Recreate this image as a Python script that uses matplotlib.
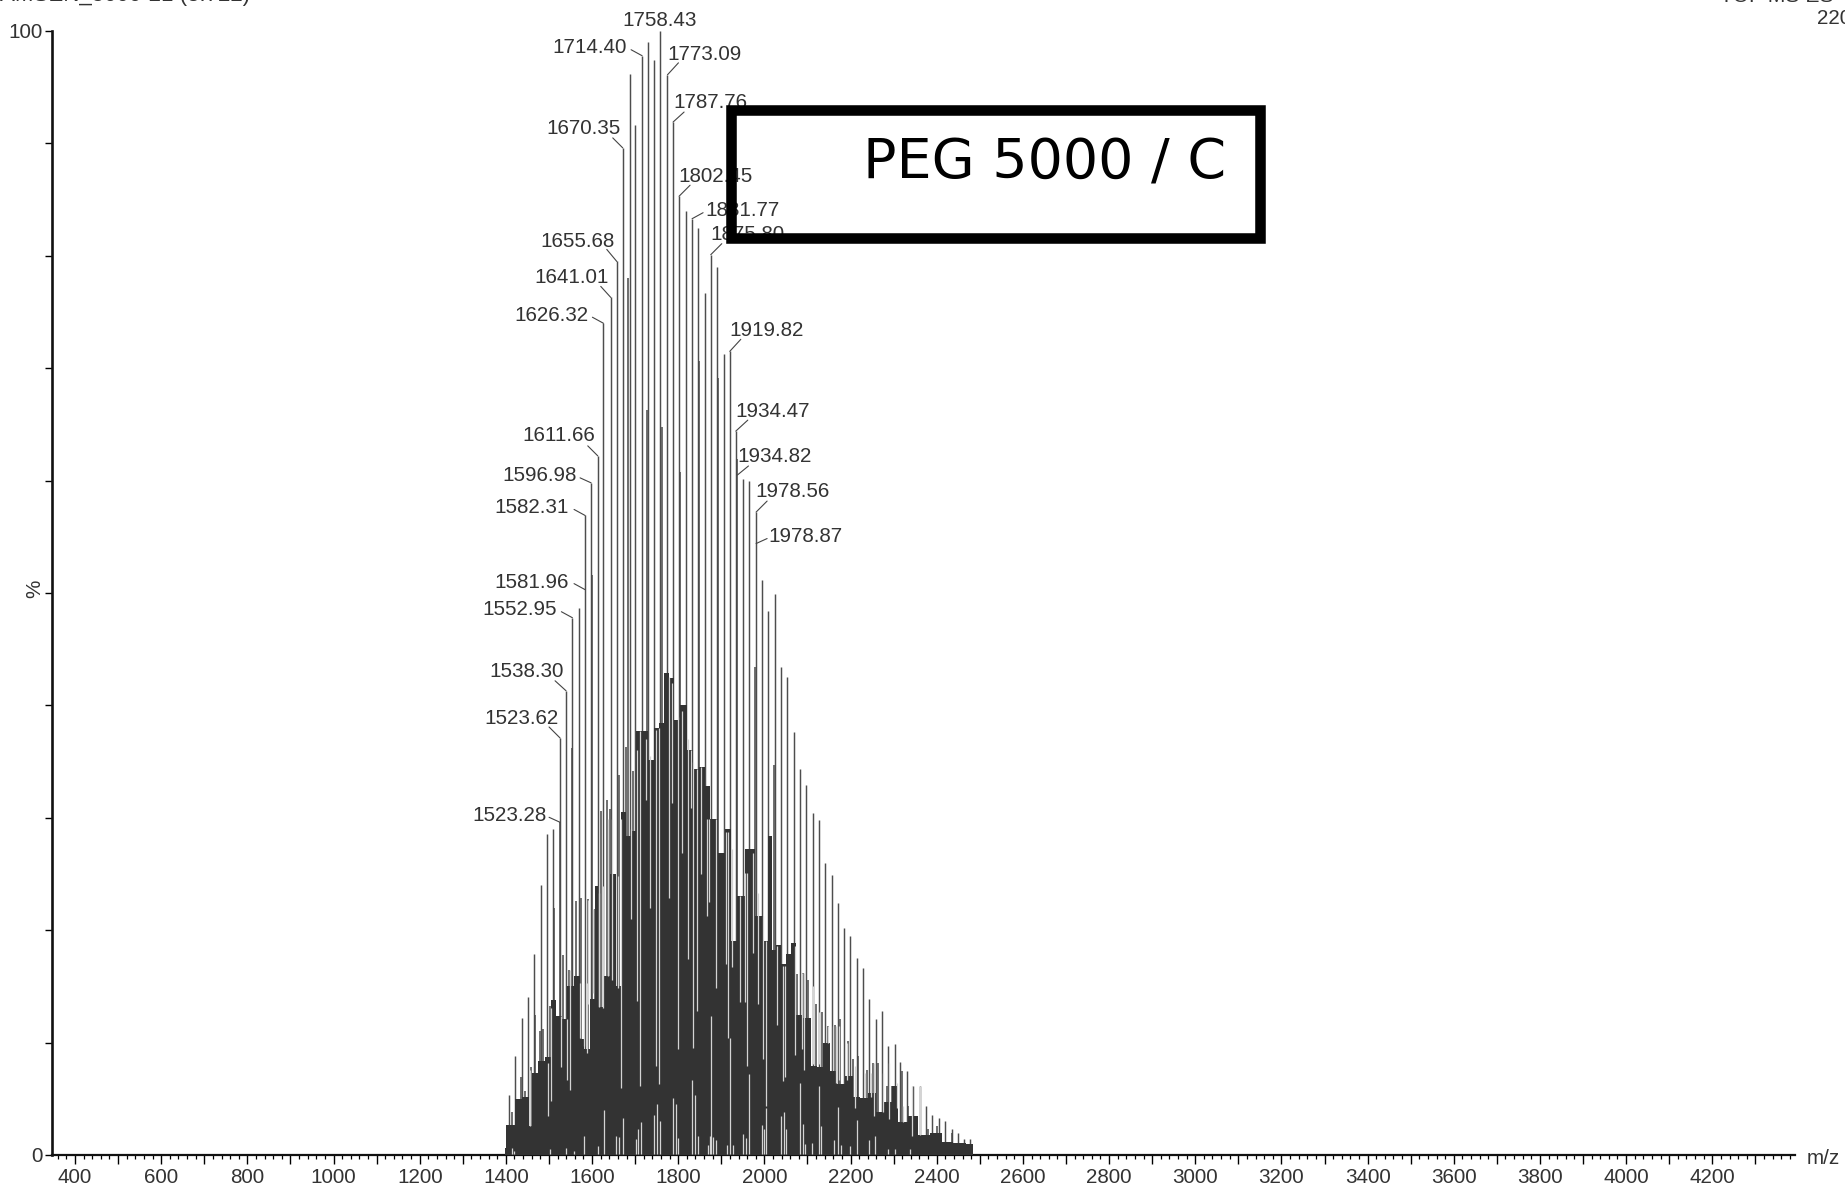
import numpy as np
import matplotlib
matplotlib.use('Agg')
import matplotlib.pyplot as plt
from matplotlib.patches import Rectangle

W, H = 1845, 1186

# tallest sticks, main charge series (m/z, %)
tall_mz = [1407.4, 1420.6, 1437.6, 1451.5, 1465.5, 1481.7, 1494.9, 1508.8, 1525.8, 1539.7, 1554.4, 1569.1,
           1583.8, 1597.8, 1613.3, 1626.4, 1643.4, 1657.4, 1671.3, 1687.5, 1700.7, 1716.2, 1730.9, 1744.8,
           1758.7, 1775.0, 1788.1, 1802.0, 1819.0, 1832.2, 1846.2, 1862.4, 1875.6, 1890.3, 1906.5, 1919.7,
           1933.6, 1949.9, 1963.8, 1980.8, 1994.0, 2008.7, 2024.9, 2038.8, 2052.0, 2068.2, 2082.2, 2096.1,
           2112.3, 2126.3, 2140.2, 2156.5, 2170.4, 2185.1, 2199.8, 2214.5, 2230.0, 2243.9, 2259.4, 2274.1,
           2288.0, 2302.0, 2315.1, 2330.6, 2346.0, 2361.5, 2375.4, 2389.4, 2406.4, 2420.3, 2435.0, 2449.0,
           2462.9, 2477.6]
tall_pct = [5.3, 8.8, 12.2, 14.1, 17.9, 24.0, 28.6, 29.0, 37.1, 41.3, 47.8, 48.7,
            56.9, 59.8, 62.2, 74.0, 76.3, 79.5, 89.6, 96.2, 91.6, 97.8, 99.0, 97.4,
            100.0, 96.1, 91.9, 85.3, 84.0, 83.3, 82.5, 76.7, 80.1, 79.0, 71.3, 71.5,
            64.4, 60.1, 60.0, 57.2, 51.2, 48.4, 49.9, 43.4, 42.5, 37.6, 34.3, 32.9,
            30.4, 29.8, 26.0, 24.9, 22.4, 20.2, 19.5, 17.5, 16.6, 13.9, 12.1, 12.8,
            9.7, 9.9, 8.3, 7.5, 6.1, 6.1, 4.4, 3.6, 3.3, 3.0, 2.3, 2.0,
            1.4, 1.4]

# second rank sticks
mid_mz = [1415.2, 1436.0, 1443.8, 1457.7, 1467.8, 1479.4, 1485.6, 1501.8, 1511.9, 1525.8, 1532.0, 1546.7,
          1554.4, 1562.9, 1574.6, 1590.0, 1599.3, 1607.0, 1620.2, 1634.1, 1641.9, 1663.5, 1678.2, 1684.4,
          1696.0, 1728.6, 1761.8, 1805.1, 1848.5, 1892.6, 1937.5, 1978.5, 2022.6, 2075.2, 2089.1, 2102.3,
          2120.0, 2133.3, 2148.7, 2164.2, 2175.8, 2193.6, 2206.8, 2216.8, 2237.7, 2253.2, 2264.8, 2284.1,
          2295.7, 2319.0, 2334.4, 2380.9, 2400.2, 2435.0]
mid_pct = [3.8, 6.9, 5.7, 7.8, 12.5, 11.0, 11.2, 13.3, 22.0, 29.6, 17.8, 16.5,
           36.2, 22.6, 22.9, 22.8, 51.6, 21.9, 30.6, 31.6, 30.8, 33.8, 36.3, 78.0,
           34.2, 66.3, 64.8, 60.8, 70.6, 69.1, 61.9, 43.4, 34.7, 16.1, 16.2, 15.6,
           13.4, 12.7, 11.5, 11.6, 12.1, 10.1, 8.5, 8.8, 7.6, 8.2, 8.2, 6.1,
           6.1, 7.5, 4.4, 2.3, 2.6, 2.0]

# top of the dense dark mass
mass_mz = [1398.0, 1403.6, 1420.6, 1422.0, 1452.0, 1456.0, 1464.0, 1483.0, 1499.0, 1509.0, 1522.0, 1537.5,
           1547.5, 1568.0, 1576.0, 1589.0, 1601.6, 1611.0, 1617.0, 1634.0, 1650.0, 1661.0, 1673.0, 1684.5,
           1696.0, 1707.7, 1719.3, 1738.6, 1750.2, 1761.8, 1773.4, 1782.7, 1796.6, 1813.7, 1827.6, 1839.2,
           1857.0, 1866.3, 1881.8, 1901.1, 1916.6, 1928.2, 1943.7, 1966.9, 1990.0, 2005.6, 2013.3, 2021.0,
           2032.7, 2044.3, 2055.9, 2067.5, 2079.1, 2102.3, 2113.9, 2129.4, 2144.9, 2160.3, 2175.8, 2199.0,
           2214.5, 2230.0, 2249.0, 2268.7, 2288.0, 2303.5, 2319.0, 2346.0, 2369.0, 2400.0, 2423.4, 2454.4,
           2481.5, 2486.0]
mass_pct = [0.65, 2.7, 2.7, 5.0, 5.2, 2.6, 7.3, 8.4, 8.7, 13.8, 12.4, 12.1,
            15.0, 15.9, 10.3, 9.4, 13.9, 23.9, 13.2, 15.9, 25.0, 15.0, 30.5, 28.4,
            28.8, 37.7, 37.7, 35.1, 38.0, 38.4, 42.9, 42.4, 38.7, 40.0, 36.0, 34.3,
            34.5, 32.8, 29.9, 26.9, 29.0, 19.0, 23.0, 27.2, 21.3, 19.0, 28.4, 18.2,
            18.7, 17.0, 17.9, 18.9, 12.5, 12.2, 7.9, 7.8, 10.0, 7.5, 6.3, 7.0,
            5.2, 5.1, 5.5, 3.8, 4.7, 6.1, 2.9, 3.5, 1.8, 2.0, 1.2, 1.1,
            0.95, 0.0]

# pale valleys cut into the mass from above
gap_mz = [1456.2, 1498.7, 1504.9, 1528.1, 1542.8, 1549.0, 1572.2, 1581.5, 1587.7, 1591.6, 1603.2, 1617.1,
          1624.9, 1638.0, 1647.3, 1661.2, 1667.4, 1689.9, 1703.8, 1711.5, 1724.7, 1734.7, 1748.7, 1755.6,
          1778.8, 1785.0, 1799.7, 1808.2, 1823.0, 1829.1, 1835.3, 1843.1, 1853.9, 1867.8, 1872.5, 1887.2,
          1910.4, 1916.6, 1925.9, 1943.7, 1955.3, 1959.1, 1974.6, 1986.2, 1997.8, 2004.0, 2028.8, 2042.7,
          2048.1, 2071.4, 2086.8, 2093.0, 2113.9, 2127.8, 2147.2, 2160.3, 2166.5, 2174.3, 2191.3, 2210.6,
          2233.8, 2247.0, 2254.7, 2276.4, 2290.3, 2307.4, 2321.3, 2342.2, 2361.5]
gap_high = [7.6, 8.2, 13.1, 12.4, 12.1, 16.5, 15.3, 15.3, 15.3, 22.7, 21.9, 23.3,
            23.9, 29.9, 29.9, 24.8, 29.9, 29.0, 36.0, 37.7, 37.0, 35.5, 37.8, 38.0,
            42.5, 42.0, 39.0, 39.5, 37.0, 36.0, 35.0, 34.3, 34.5, 29.9, 29.9, 29.9,
            28.7, 28.7, 27.2, 23.0, 25.1, 25.1, 26.9, 23.3, 21.3, 19.0, 18.6, 16.8,
            16.8, 18.6, 16.2, 16.2, 15.0, 12.7, 11.5, 11.5, 11.5, 11.5, 10.0, 7.9,
            7.3, 7.3, 8.2, 7.3, 8.2, 6.4, 4.4, 6.1, 6.1]
gap_low = [2.6, 3.5, 4.8, 7.8, 6.7, 5.8, 10.4, 9.7, 9.1, 13.4, 14.4, 13.2,
           13.1, 15.9, 15.6, 14.9, 6.0, 21.0, 13.7, 6.1, 31.6, 22.0, 7.9, 6.3,
           22.9, 31.3, 9.4, 26.9, 17.4, 30.9, 9.5, 12.8, 25.0, 21.3, 22.5, 14.9,
           17.0, 10.4, 16.7, 13.6, 13.6, 7.9, 18.0, 13.4, 8.5, 4.4, 11.6, 6.6,
           6.9, 8.9, 9.4, 7.6, 8.1, 8.1, 10.0, 7.6, 6.4, 6.7, 6.7, 4.2,
           5.2, 5.2, 3.5, 3.8, 3.2, 4.2, 2.9, 1.7, 1.8]

# pale sticks rising from the baseline
low_mz = [1876.3, 1920.5, 1963.8, 1832.2, 1839.2, 1788.1, 1795.1, 1751.8, 1744.0, 1757.9, 1713.8, 1707.7,
          1701.5, 1671.3, 1655.8, 1662.8, 1627.2, 1582.3, 1613.3, 1539.7, 1559.1, 1502.6, 1413.6, 1419.8,
          2004.8, 1994.0, 2000.2, 2038.8, 2045.8, 2050.5, 2083.0, 2089.1, 2095.3, 2111.6, 2126.3, 2132.5,
          2170.4, 2162.7, 2177.4, 2214.5, 2199.0, 2243.9, 2257.8, 2288.0, 2302.0, 2338.3, 1951.4, 1957.6,
          1881.8, 1888.7, 1868.6, 1874.0, 1912.7, 1926.6, 1845.4, 1800.5]
low_pct = [12.4, 10.4, 7.2, 6.7, 5.3, 5.1, 4.5, 4.5, 3.6, 3.0, 2.9, 2.3,
           1.4, 3.3, 1.7, 1.6, 4.0, 1.7, 0.8, 0.65, 0.35, 0.5, 0.65, 0.35,
           4.2, 2.7, 2.3, 3.5, 3.8, 2.3, 6.4, 2.8, 1.0, 1.1, 6.1, 2.6,
           4.3, 1.3, 0.9, 3.1, 0.8, 1.3, 1.7, 0.5, 0.56, 0.56, 1.9, 1.5,
           1.6, 1.3, 0.9, 1.7, 0.9, 0.9, 1.7, 1.5]

# peak labels
peak_text = ['1758.43', '1714.40', '1773.09', '1787.76', '1670.35', '1802.45', '1831.77', '1875.80',
             '1655.68', '1641.01', '1626.32', '1919.82', '1934.47', '1611.66', '1934.82', '1596.98',
             '1978.56', '1582.31', '1978.87', '1581.96', '1552.95', '1538.30', '1523.62', '1523.28']
peak_mz = [1758.7, 1716.2, 1775.0, 1788.1, 1671.3, 1802.0, 1832.2, 1875.6,
           1657.4, 1643.4, 1626.4, 1919.7, 1933.6, 1613.3, 1937.5, 1597.8,
           1980.8, 1583.8, 1980.8, 1583.8, 1554.4, 1539.7, 1525.8, 1525.8]
peak_pct = [100.0, 97.8, 96.1, 91.9, 89.6, 85.3, 83.3, 80.1,
            79.5, 76.3, 74.0, 71.5, 64.4, 62.2, 60.5, 59.8,
            57.2, 56.9, 54.4, 50.3, 47.8, 41.3, 37.1, 29.6]
# label centre and leader start, pixels away from the peak top
text_off = [(-1, 10), (-53, 8), (37, 20), (37, 20), (-39, 19), (36, 20), (50, 8), (37, 20),
            (-39, 20), (-39, 20), (-52, 8), (37, 21), (37, 20), (-39, 20), (37, 18), (-52, 7),
            (36, 21), (-53, 8), (49, 7), (-53, 7), (-53, 8), (-39, 19), (-39, 19), (-51, 7)]
lead_off = [None, (-11, 6), (11, 12), (11, 10), (-10, 10), (11, 11), (11, 6), (11, 11),
            (-10, 12), (-10, 11), (-11, 6), (11, 12), (12, 11), (-10, 10), (11, 9), (-11, 5),
            (11, 11), (-11, 6), (11, 5), (-11, 6), (-11, 6), (-11, 10), (-11, 11), (-11, 5)]

x_ticks = list(range(400, 4400, 100))
x_labels = [str(v) if v % 200 == 0 and v <= 4200 else '' for v in x_ticks]
x_minor = list(range(360, 4400, 20))
y_ticks = list(range(0, 101, 10))
y_labels = ['100' if v == 100 else '0' if v == 0 else '' for v in y_ticks]

plt.rcParams['font.family'] = ['Liberation Sans', 'DejaVu Sans']
txt = '#333333'
label_size = 14.9

fig = plt.figure(figsize=(W / 100, H / 100), dpi=100)
ax = fig.add_axes([52 / W, (H - 1155) / H, (1795 - 52) / W, 1124 / H])
ax.set_xlim(346.6, 4392)
ax.set_ylim(0, 100)

ax.vlines(tall_mz, 0, tall_pct, color='#4d4d4d', lw=1.05, zorder=2)
ax.vlines(mid_mz, 0, mid_pct, color='#484848', lw=1.1, zorder=2)
ax.fill_between(mass_mz, 0, mass_pct, step='mid', color='#333333', lw=0, zorder=3)
ax.vlines(gap_mz, gap_low, gap_high, color='#d4d4d4', lw=0.9, zorder=4)
ax.vlines(low_mz, 0.05, low_pct, color='#d4d4d4', lw=0.9, zorder=4)

for i in range(len(peak_text)):
    xy = (peak_mz[i], peak_pct[i])
    ax.annotate(peak_text[i], xy=xy, xytext=text_off[i], textcoords='offset pixels',
                ha='center', va='center', fontsize=label_size, color=txt, zorder=6)
    if lead_off[i] is not None:
        ax.annotate('', xy=xy, xytext=lead_off[i], textcoords='offset pixels', zorder=6,
                    arrowprops=dict(arrowstyle='-', color='#444444', lw=0.8, shrinkA=0, shrinkB=0))

ax.spines['top'].set_visible(False)
ax.spines['right'].set_visible(False)
ax.spines['left'].set_linewidth(1.9)
ax.spines['bottom'].set_linewidth(1.6)
ax.spines['left'].set_color('#111111')
ax.spines['bottom'].set_color('#111111')

ax.set_xticks(x_ticks)
ax.set_xticklabels(x_labels)
ax.set_xticks(x_minor, minor=True)
ax.set_yticks(y_ticks)
ax.set_yticklabels(y_labels)
ax.tick_params(axis='x', which='major', length=6.5, width=1.0, pad=3, labelsize=label_size, labelcolor=txt)
ax.tick_params(axis='x', which='minor', length=3.2, width=0.9)
ax.tick_params(axis='y', which='major', length=5, width=1.0, pad=2, labelsize=label_size, labelcolor=txt)

def fig_text(x, y, s, size=label_size, **kw):
    fig.text(x / W, 1 - y / H, s, color=txt, fontsize=size, va='center', **kw)

fig_text(35, 589, '%', ha='center', rotation=90)
fig_text(1807, 1158, 'm/z', ha='left')
fig_text(0, -4, 'AMSEN_5000-21 (3.722)', size=16, ha='left')
fig_text(1720, -4, 'TOF MS ES+', size=15.2, ha='left')
fig_text(1817, 18, '220', ha='left')

fig.add_artist(Rectangle((731 / W, 1 - 237.5 / H), (1260 - 731) / W, 127.5 / H, transform=fig.transFigure,
                         fill=False, ec='black', lw=7.6, joinstyle='miter', zorder=10))
fig.text(1045 / W, 1 - 164 / H, 'PEG 5000 / C', family='DejaVu Sans', fontsize=40, color='black',
         ha='center', va='center', zorder=11)

fig.savefig('out.png', dpi=100)
